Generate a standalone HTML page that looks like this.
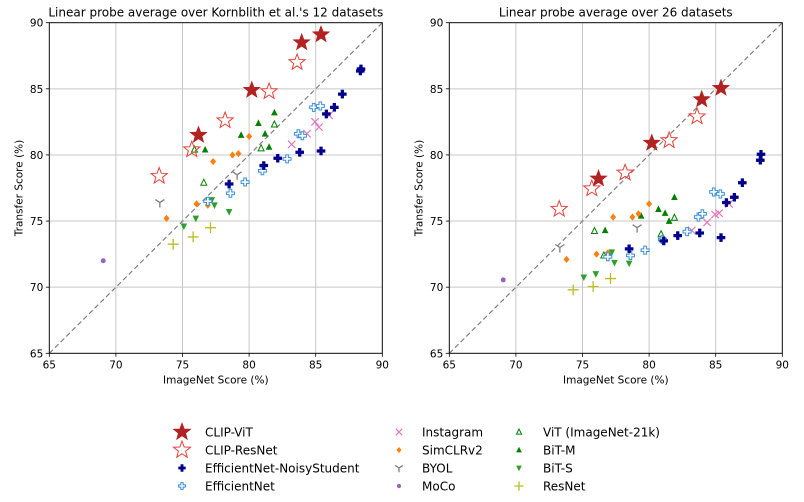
<!DOCTYPE html>
<html><head><meta charset="utf-8"><style>
body{margin:0;background:#fff;}
svg{display:block;font-family:"DejaVu Sans","Liberation Sans",sans-serif;}
</style></head><body>
<svg id="chart" width="804" height="502" viewBox="0 0 804 502" xmlns="http://www.w3.org/2000/svg"></svg>
<script>
// ---- data ----
const seriesNames = ["CLIP-ViT","CLIP-ResNet","EfficientNet-NoisyStudent","EfficientNet","Instagram","SimCLRv2","BYOL","MoCo","ViT (ImageNet-21k)","BiT-M","BiT-S","ResNet"];
const imagenetClipVit = [76.2,80.2,83.95,85.4];
const leftClipVit = [81.5,84.9,88.5,89.1];
const rightClipVit = [78.2,80.9,84.2,85.05];
const imagenetClipRes = [73.25,75.7,78.2,81.5,83.6];
const leftClipRes = [78.4,80.4,82.6,84.8,87.0];
const rightClipRes = [75.9,77.45,78.65,81.1,82.9];
const imagenetNoisy = [78.5,81.1,82.15,83.8,85.4,85.8,86.4,87.0,88.4,88.35];
const leftNoisy = [77.8,79.2,79.75,80.2,80.3,83.1,83.6,84.6,86.5,86.35];
const rightNoisy = [72.9,73.5,73.9,74.1,73.75,76.4,76.8,77.9,80.05,79.6];
const imagenetEff = [76.9,78.6,79.7,81.0,82.85,83.7,84.0,84.85,85.35];
const leftEff = [76.5,77.1,77.95,78.8,79.7,81.6,81.45,83.6,83.7];
const rightEff = [72.3,72.4,72.8,73.6,74.2,75.3,75.55,77.2,77.05];
const imagenetInsta = [83.2,84.35,84.95,85.25,86.0];
const leftInsta = [80.8,81.6,82.5,82.1,83.0];
const rightInsta = [74.3,74.9,75.5,75.6,76.3];
const imagenetSim = [73.8,76.05,76.9,77.3,78.75,79.2,80.0];
const leftSim = [75.2,76.3,76.2,79.5,80.0,80.1,81.4];
const rightSim = [72.1,72.5,72.6,75.3,75.3,75.55,76.3];
const imagenetByol = [73.3,79.1];
const leftByol = [76.4,78.5];
const rightByol = [73.0,74.5];
const imagenetMoco = [69.05];
const leftMoco = [72.0];
const rightMoco = [70.55];
const imagenetVit = [75.9,76.6,80.9,81.9];
const leftVit = [80.4,77.9,80.5,82.3];
const rightVit = [74.25,72.4,74.0,75.25];
const imagenetBitM = [76.7,79.4,80.7,81.2,81.5,81.9];
const leftBitM = [80.4,81.5,82.4,81.6,80.6,83.2];
const rightBitM = [74.3,75.4,75.9,75.6,75.0,76.8];
const imagenetBitS = [75.1,76.0,77.0,77.2,77.4,78.5];
const leftBitS = [74.6,75.2,76.5,76.6,76.2,75.7];
const rightBitS = [70.75,71.0,72.5,72.65,71.85,71.8];
const imagenetResnet = [74.3,75.8,77.1];
const leftResnet = [73.25,73.8,74.5];
const rightResnet = [69.8,70.05,70.65];
const ticks = [65,70,75,80,85,90];
const titles = ["Linear probe average over Kornblith et al.'s 12 datasets","Linear probe average over 26 datasets"];

const NS="http://www.w3.org/2000/svg";
const svg=document.getElementById('chart');
function mk(tag,attrs,parent){const e=document.createElementNS(NS,tag);for(const k in attrs)e.setAttribute(k,attrs[k]);(parent||svg).appendChild(e);return e;}

function starPts(cx,cy,R){const r=R*0.42;let p=[];for(let i=0;i<10;i++){const a=-Math.PI/2+i*Math.PI/5;const rr=i%2?r:R;p.push((cx+rr*Math.cos(a)).toFixed(1)+','+(cy+rr*Math.sin(a)).toFixed(1));}return p.join(' ');}
function plusPts(cx,cy,s){const a=s,b=s/3;return [[-b,-a],[b,-a],[b,-b],[a,-b],[a,b],[b,b],[b,a],[-b,a],[-b,b],[-a,b],[-a,-b],[-b,-b]].map(q=>(cx+q[0])+','+(cy+q[1])).join(' ');}
function marker(type,cx,cy,g,scale){
  const s=scale||1;let e;
  switch(type){
    case 'starF': e=mk('polygon',{points:starPts(cx,cy,8.5*s),fill:'#b22222',stroke:'#b22222','stroke-width':0.8},g);break;
    case 'starO': e=mk('polygon',{points:starPts(cx,cy,8.5*s),fill:'none',stroke:'#e8413a','stroke-width':1},g);break;
    case 'plusF': e=mk('polygon',{points:plusPts(cx,cy,4*s),fill:'#00008b',stroke:'#00008b','stroke-width':0.6},g);break;
    case 'plusO': e=mk('polygon',{points:plusPts(cx,cy,4*s),fill:'#fff',stroke:'#3a8fd8','stroke-width':1},g);break;
    case 'x': e=mk('path',{d:`M${cx-3.7*s},${cy-3.7*s}L${cx+3.7*s},${cy+3.7*s}M${cx-3.7*s},${cy+3.7*s}L${cx+3.7*s},${cy-3.7*s}`,stroke:'#e377c2','stroke-width':1.2,fill:'none'},g);break;
    case 'diamond': e=mk('polygon',{points:`${cx},${cy-3.6*s} ${cx+3*s},${cy} ${cx},${cy+3.6*s} ${cx-3*s},${cy}`,fill:'#ff7f0e'},g);break;
    case 'tri': e=mk('path',{d:`M${cx},${cy-5*s}V${cy}M${cx},${cy}L${cx-4.5*s},${cy+3*s}M${cx},${cy}L${cx+4.5*s},${cy+3*s}`,transform:`rotate(180 ${cx} ${cy})`,stroke:'#7f7f7f','stroke-width':1.3,fill:'none'},g);break;
    case 'dot': e=mk('circle',{cx:cx,cy:cy,r:2.5*s,fill:'#9467bd'},g);break;
    case 'triO': e=mk('polygon',{points:`${cx},${cy-3.5*s} ${cx+3*s},${cy+2.5*s} ${cx-3*s},${cy+2.5*s}`,fill:'none',stroke:'#008000','stroke-width':1},g);break;
    case 'triU': e=mk('polygon',{points:`${cx},${cy-3.8*s} ${cx+3.3*s},${cy+2.8*s} ${cx-3.3*s},${cy+2.8*s}`,fill:'#008000'},g);break;
    case 'triD': e=mk('polygon',{points:`${cx},${cy+3.8*s} ${cx+3.3*s},${cy-2.8*s} ${cx-3.3*s},${cy-2.8*s}`,fill:'#2ca02c'},g);break;
    case 'cross': e=mk('path',{d:`M${cx-5.5*s},${cy}H${cx+5.5*s}M${cx},${cy-5.5*s}V${cy+5.5*s}`,stroke:'#bcbd22','stroke-width':1.3,fill:'none'},g);break;
  }
  return e;
}
const types=['starF','starO','plusF','plusO','x','diamond','tri','dot','triO','triU','triD','cross'];
const xsAll=[imagenetClipVit,imagenetClipRes,imagenetNoisy,imagenetEff,imagenetInsta,imagenetSim,imagenetByol,imagenetMoco,imagenetVit,imagenetBitM,imagenetBitS,imagenetResnet];
const ysLeft=[leftClipVit,leftClipRes,leftNoisy,leftEff,leftInsta,leftSim,leftByol,leftMoco,leftVit,leftBitM,leftBitS,leftResnet];
const ysRight=[rightClipVit,rightClipRes,rightNoisy,rightEff,rightInsta,rightSim,rightByol,rightMoco,rightVit,rightBitM,rightBitS,rightResnet];
const drawOrder=[7,11,10,9,8,6,5,4,3,2,1,0];

function panel(x0,x1,yTop,yBot,ys,title,idx){
  const g=mk('g',{});
  
  
  const sx=v=>x0+(v-65)/25*(x1-x0);
  const sy=v=>yBot-(v-65)/25*(yBot-yTop);
  ticks.forEach(t=>{
    const gx=mk('line',{x1:sx(t),x2:sx(t),y1:yTop,y2:yBot,stroke:'#c8c8c8','stroke-width':1},g);
    
    const gy=mk('line',{x1:x0,x2:x1,y1:sy(t),y2:sy(t),stroke:'#c8c8c8','stroke-width':1},g);
    
    mk('line',{x1:sx(t),x2:sx(t),y1:yBot,y2:yBot+3.5,stroke:'#000','stroke-width':0.8},g);
    mk('line',{x1:x0-3.5,x2:x0,y1:sy(t),y2:sy(t),stroke:'#000','stroke-width':0.8},g);
    const tx=mk('text',{x:sx(t),y:yBot+15,'font-size':10.5,'text-anchor':'middle',fill:'#000'},g);tx.textContent=t;
    
    const ty=mk('text',{x:x0-6,y:sy(t)+4,'font-size':10.5,'text-anchor':'end',fill:'#000'},g);ty.textContent=t;
    
  });
  const d=mk('line',{x1:sx(65),y1:sy(65),x2:sx(90),y2:sy(90),stroke:'#808080','stroke-width':1.2,'stroke-dasharray':'5,3'},g);
  
  drawOrder.forEach(si=>{
    xsAll[si].forEach((xv,i)=>{
      const m=marker(types[si],sx(xv),sy(ys[si][i]),g,1);
      
      
    });
  });
  const fr=mk('rect',{x:x0,y:yTop,width:x1-x0,height:yBot-yTop,fill:'none',stroke:'#000','stroke-width':0.9},g);
  
  const tt=mk('text',{x:(x0+x1)/2,y:yTop-6,'font-size':12,'text-anchor':'middle',fill:'#000'},g);tt.textContent=title;
  
  const xl=mk('text',{x:(x0+x1)/2,y:yBot+30,'font-size':10.5,'text-anchor':'middle',fill:'#000'},g);xl.textContent='ImageNet Score (%)';
  
  const cy=(yTop+yBot)/2, cx=x0-27;
  const yl=mk('text',{x:cx,y:cy,'font-size':10.5,'text-anchor':'middle',fill:'#000',transform:`rotate(-90 ${cx} ${cy})`},g);yl.textContent='Transfer Score (%)';
  
}
panel(49.3,382.3,22.7,353.3,ysLeft,titles[0],0);
panel(449.3,782.3,22.7,353.3,ysRight,titles[1],1);

// legend
const lg=mk('g',{});


const colX=[182,399,519], txtX=[205,422,543], rowY=[432,450,468,486];
seriesNames.forEach((n,i)=>{
  const c=Math.floor(i/4), r=i%4;
  const eg=mk('g',{},lg);
  
  
  const sc=(types[i]==='starF'||types[i]==='starO')?1.05:0.85;
  marker(types[i],colX[c],rowY[r],eg,sc);
  const t=mk('text',{x:txtX[c],y:rowY[r]+4.5,'font-size':12,fill:'#000'},eg);t.textContent=n;
});
</script>
</body></html>
